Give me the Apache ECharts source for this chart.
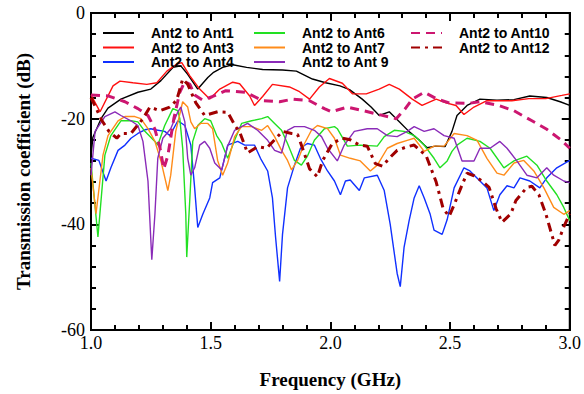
<!DOCTYPE html>
<html><head><meta charset="utf-8">
<script src="https://cdn.jsdelivr.net/npm/echarts@6/dist/echarts.min.js"></script>
<style>html,body{margin:0;padding:0;background:#fff}#c{width:584px;height:394px}</style>
</head><body><div id="c"></div>
<script>
// Frequency (GHz), Transmission coefficient (dB)
const names = ['Ant2 to Ant1','Ant2 to Ant3','Ant2 to Ant4','Ant2 to Ant6','Ant2 to Ant7','Ant2 to Ant 9','Ant2 to Ant10','Ant2 to Ant12'];

const ant1 = [[1.0,-27],[1.008,-23.5],[1.042,-20],[1.071,-18],[1.125,-16.3],[1.196,-15],[1.25,-14.4],[1.292,-12.8],[1.342,-10.3],[1.375,-10],[1.404,-11.6],[1.446,-14.4],[1.488,-12.2],[1.51,-11.3],[1.55,-10.3],[1.592,-9.8],[1.65,-10.3],[1.717,-10.7],[1.8,-10.8],[1.858,-11],[1.925,-12.5],[1.98,-13.2],[2.04,-13.8],[2.08,-14.5],[2.133,-16.3],[2.17,-17.8],[2.204,-19.4],[2.246,-18.7],[2.288,-20.6],[2.33,-22.5],[2.37,-24],[2.404,-25.5],[2.44,-25.2],[2.479,-25.3],[2.508,-22.4],[2.529,-19.4],[2.571,-17.5],[2.625,-16.3],[2.696,-16.5],[2.767,-16.4],[2.833,-15.7],[2.904,-16],[2.96,-16.8],[3.0,-17.5]];

const ant3 = [[1.0,-15.5],[1.038,-18.7],[1.092,-13.8],[1.121,-12.9],[1.175,-13.2],[1.233,-13.5],[1.275,-13.2],[1.317,-11],[1.358,-9.7],[1.379,-9.4],[1.413,-11.9],[1.454,-14.4],[1.496,-16.3],[1.538,-14.4],[1.592,-13.1],[1.621,-13.4],[1.663,-15.7],[1.683,-17.5],[1.717,-15.8],[1.758,-13.5],[1.829,-14],[1.871,-14.9],[1.913,-16.3],[1.954,-14],[1.996,-12.4],[2.05,-13.3],[2.092,-15.3],[2.15,-15.3],[2.204,-14.4],[2.246,-13.5],[2.288,-14.4],[2.342,-16.3],[2.383,-17.5],[2.442,-16.3],[2.483,-17],[2.525,-17.5],[2.558,-19.2],[2.6,-17.8],[2.654,-16.6],[2.758,-16.6],[2.829,-16.2],[2.9,-16.2],[2.967,-15.6],[3.0,-15.3]];

const ant4 = [[1.0,-27.5],[1.033,-27.9],[1.063,-31.8],[1.083,-29.3],[1.113,-26],[1.142,-25],[1.167,-23.7],[1.196,-22.8],[1.225,-22.1],[1.25,-21.9],[1.267,-22.1],[1.308,-22.4],[1.329,-23.2],[1.363,-20.4],[1.392,-21.3],[1.417,-25],[1.433,-33.1],[1.446,-40.6],[1.467,-38.1],[1.496,-35],[1.508,-32.1],[1.538,-31.2],[1.571,-25],[1.613,-24.3],[1.642,-25],[1.683,-25],[1.708,-27.5],[1.738,-29.9],[1.758,-35],[1.771,-42.4],[1.788,-50.8],[1.8,-41.9],[1.821,-33.1],[1.85,-28.8],[1.875,-25.6],[1.904,-24.7],[1.933,-25],[1.958,-27.5],[1.988,-29.9],[2.017,-31.8],[2.042,-34.4],[2.063,-31.8],[2.083,-31.6],[2.121,-33.6],[2.142,-31.2],[2.196,-30.7],[2.225,-33.6],[2.25,-40],[2.279,-49.3],[2.292,-51.8],[2.308,-44.3],[2.329,-39.3],[2.35,-35],[2.371,-32.7],[2.392,-35],[2.417,-38.1],[2.433,-41.1],[2.467,-41.9],[2.488,-39.1],[2.517,-33.1],[2.558,-29.3],[2.583,-29.9],[2.625,-31.8],[2.654,-33.1],[2.683,-37.4],[2.708,-34.4],[2.738,-32.7],[2.767,-33.1],[2.792,-31.2],[2.833,-31.8],[2.875,-33.1],[2.904,-31.2],[2.946,-29.3],[3.0,-27.9]];

const ant6 = [[1.0,-28.4],[1.029,-42.4],[1.058,-26.9],[1.083,-23.2],[1.125,-20.4],[1.167,-20.4],[1.196,-20.6],[1.225,-22.4],[1.267,-24.3],[1.279,-25],[1.308,-21.3],[1.342,-18.1],[1.363,-18.5],[1.371,-20],[1.383,-25.6],[1.396,-38.1],[1.4,-46.2],[1.413,-35],[1.425,-24.3],[1.446,-21.3],[1.475,-20],[1.5,-20.4],[1.525,-23.2],[1.546,-24.7],[1.571,-27.5],[1.6,-24.1],[1.629,-20.9],[1.671,-20.4],[1.713,-20],[1.738,-19.6],[1.767,-20.9],[1.796,-22.2],[1.821,-24.7],[1.85,-27.9],[1.879,-28.8],[1.904,-27.1],[1.933,-24.1],[1.975,-21.9],[2.017,-21.5],[2.029,-21.9],[2.071,-25.2],[2.125,-25],[2.196,-25.2],[2.225,-23.4],[2.267,-22.2],[2.308,-22.4],[2.35,-23.2],[2.392,-25],[2.433,-27.5],[2.458,-29.3],[2.488,-28],[2.508,-26.2],[2.529,-25],[2.571,-23.7],[2.625,-24.3],[2.667,-25.6],[2.725,-29.3],[2.767,-28],[2.821,-27.1],[2.863,-28.8],[2.904,-31.8],[2.946,-34.4],[2.975,-36.8],[3.0,-39.3]];

const ant7 = [[1.0,-29.3],[1.021,-38],[1.05,-26.9],[1.071,-23.2],[1.113,-20.4],[1.142,-19.6],[1.183,-19.6],[1.208,-20],[1.238,-21.9],[1.267,-24.3],[1.292,-28],[1.321,-33.6],[1.333,-30.7],[1.354,-22.4],[1.383,-16.8],[1.404,-17.8],[1.417,-20.6],[1.433,-21.9],[1.458,-20.9],[1.488,-20.9],[1.508,-21.9],[1.529,-27.9],[1.55,-30.7],[1.571,-28.4],[1.6,-23.4],[1.629,-21.5],[1.671,-21.5],[1.713,-22.2],[1.738,-21.3],[1.767,-23.4],[1.796,-26],[1.821,-27.9],[1.838,-29.7],[1.863,-27.9],[1.892,-24.7],[1.921,-22.2],[1.946,-21.3],[1.988,-21.9],[2.017,-23.7],[2.042,-26.9],[2.083,-27.5],[2.125,-28],[2.167,-29.9],[2.196,-28.8],[2.238,-25.6],[2.279,-24.7],[2.321,-24.1],[2.35,-23.7],[2.392,-26.2],[2.433,-25.2],[2.475,-25.2],[2.517,-22.8],[2.571,-23.2],[2.613,-24.1],[2.654,-27.5],[2.696,-30.3],[2.725,-30.7],[2.767,-28.4],[2.808,-27.9],[2.85,-29.9],[2.892,-33.1],[2.933,-36.8],[2.975,-38.1],[3.0,-37.4]];

const ant9 = [[1.0,-30.7],[1.017,-22.4],[1.058,-19.6],[1.1,-18.7],[1.125,-19.4],[1.167,-20.4],[1.196,-21.3],[1.217,-24.3],[1.238,-31.8],[1.254,-46.7],[1.267,-38.1],[1.279,-27.5],[1.3,-23.7],[1.333,-21.9],[1.363,-18.7],[1.375,-17.8],[1.392,-20.6],[1.404,-27.5],[1.417,-30.7],[1.433,-29.3],[1.454,-25],[1.475,-24.3],[1.496,-25.6],[1.517,-28.4],[1.546,-29.7],[1.571,-25.2],[1.6,-22.2],[1.629,-21.5],[1.654,-20.9],[1.696,-22.2],[1.738,-24.1],[1.767,-26],[1.796,-26.5],[1.821,-22.2],[1.85,-21.5],[1.892,-21.5],[1.933,-22.2],[1.963,-23.4],[1.988,-25.6],[2.029,-28],[2.058,-25],[2.1,-22.4],[2.154,-21.9],[2.196,-21.9],[2.238,-23.2],[2.279,-23.4],[2.321,-22.4],[2.35,-21.5],[2.392,-22.4],[2.433,-21.9],[2.475,-23.2],[2.517,-23.7],[2.55,-28],[2.6,-28],[2.625,-25.6],[2.667,-25.6],[2.708,-24.3],[2.738,-25.6],[2.779,-28],[2.821,-30.7],[2.863,-31.2],[2.904,-29.3],[2.933,-30.7],[2.975,-31.8],[3.0,-32.1]];

const ant10 = [[1.0,-15.5],[1.071,-15.7],[1.142,-16.8],[1.196,-18.1],[1.238,-19.4],[1.267,-22],[1.288,-25.5],[1.304,-29.5],[1.321,-27],[1.346,-20],[1.371,-15],[1.392,-13],[1.413,-13.5],[1.433,-15.5],[1.467,-16.5],[1.508,-15.8],[1.563,-14.7],[1.646,-15],[1.717,-16.6],[1.788,-16.8],[1.842,-16.3],[1.913,-16.6],[1.975,-18.1],[2.004,-18.7],[2.071,-17.8],[2.129,-18.4],[2.183,-19],[2.275,-20],[2.313,-18.1],[2.342,-16.3],[2.392,-15],[2.446,-16.3],[2.496,-17],[2.579,-17.1],[2.625,-16.8],[2.704,-17.5],[2.767,-18.5],[2.842,-20.4],[2.904,-22],[2.963,-24],[3.0,-25.6]];

const ant12 = [[1.0,-16],[1.046,-20.4],[1.075,-22.4],[1.108,-23.7],[1.125,-22.8],[1.167,-22.8],[1.217,-20],[1.246,-17.8],[1.288,-18.5],[1.329,-17.8],[1.358,-16.5],[1.383,-12.5],[1.404,-13.5],[1.438,-17],[1.475,-19.4],[1.529,-18.7],[1.571,-18.8],[1.604,-21.5],[1.621,-22.5],[1.654,-26.5],[1.696,-25.3],[1.733,-25.6],[1.767,-24],[1.8,-22.4],[1.838,-22.8],[1.863,-23],[1.883,-25.5],[1.913,-29.5],[1.946,-31],[1.967,-28],[2.008,-24.7],[2.05,-23.7],[2.083,-24],[2.121,-25],[2.154,-25.2],[2.188,-28.5],[2.217,-29],[2.246,-27.5],[2.279,-26],[2.321,-25.3],[2.35,-25],[2.4,-27],[2.442,-32],[2.471,-37],[2.496,-38.5],[2.517,-36.3],[2.546,-33],[2.571,-30.3],[2.6,-30.8],[2.633,-31.8],[2.663,-33],[2.692,-37],[2.717,-39.6],[2.754,-38],[2.775,-35.5],[2.821,-33],[2.842,-32.8],[2.871,-34.4],[2.9,-38],[2.938,-44],[2.954,-43],[2.975,-40.5],[3.0,-38]];

const dataList = [ant1, ant3, ant4, ant6, ant7, ant9, ant10, ant12];
const colors = ['#000000','#ff1010','#1030ff','#22e022','#ff8c1a','#8a2bb8','#cc1670','#a00000'];
const widths = [1.4,1.4,1.4,1.4,1.4,1.4,3,3];
const dashes = ['solid','solid','solid','solid','solid','solid',[9,6],[9,5,3,5]];

const chart = echarts.init(document.getElementById('c'), null, {renderer:'svg'});
const legendText = {fontFamily:'Liberation Sans', fontWeight:'bold', fontSize:14, color:'#000', lineHeight:14, padding:[0,0,0,12]};
const mkLegend = (left, data) => ({orient:'vertical', left, top:26, itemWidth:31, itemHeight:14, itemGap:0.5, padding:0,
  textStyle:legendText, itemStyle:{opacity:0}, data, selectedMode:false});
const tickStyle = {color:'#000', width:2};
const mkAxis = (extra) => Object.assign({
  axisLine:{show:true, onZero:false, lineStyle:{color:'#000', width:2}},
  axisTick:{show:true, inside:true, length:8, lineStyle:tickStyle},
  minorTick:{show:true, splitNumber:5, length:5, lineStyle:tickStyle},
  splitLine:{show:false}, minorSplitLine:{show:false}
}, extra);
const labelFont = {fontFamily:'Liberation Serif', fontSize:18, color:'#000'};
const nameFont = {fontFamily:'Liberation Serif', fontSize:19, fontWeight:'bold', color:'#000'};

chart.setOption({
  animation:false,
  grid:{left:91, right:13, top:13, bottom:60, show:true, borderColor:'#000', borderWidth:2, backgroundColor:'transparent'},
  legend:[mkLegend(102, names.slice(0,3)), mkLegend(253, names.slice(3,6)), mkLegend(410, names.slice(6,8))],
  xAxis:[
    mkAxis({type:'value', min:1, max:3, interval:0.5, position:'bottom',
      name:'Frequency (GHz)', nameLocation:'middle', nameGap:40, nameTextStyle:nameFont,
      axisLabel:Object.assign({show:true, margin:4, formatter:v=>v.toFixed(1)}, labelFont)}),
    mkAxis({type:'value', min:1, max:3, interval:0.5, position:'top', axisLabel:{show:false}})
  ],
  yAxis:[
    mkAxis({type:'value', min:-60, max:0, interval:20, position:'left',
      name:'Transmission coefficient (dB)', nameLocation:'middle', nameGap:58, nameTextStyle:nameFont,
      axisLabel:Object.assign({show:true, margin:6}, labelFont)}),
    mkAxis({type:'value', min:-60, max:0, interval:20, position:'right', axisLabel:{show:false}})
  ],
  series: dataList.map((d,i)=>({
    name:names[i], type:'line', data:d, xAxisIndex:0, yAxisIndex:0,
    showSymbol:false, symbol:'none', smooth:false, color:colors[i],
    lineStyle:{color:colors[i], width:widths[i], type:dashes[i]}
  }))
});
</script>
</body></html>
